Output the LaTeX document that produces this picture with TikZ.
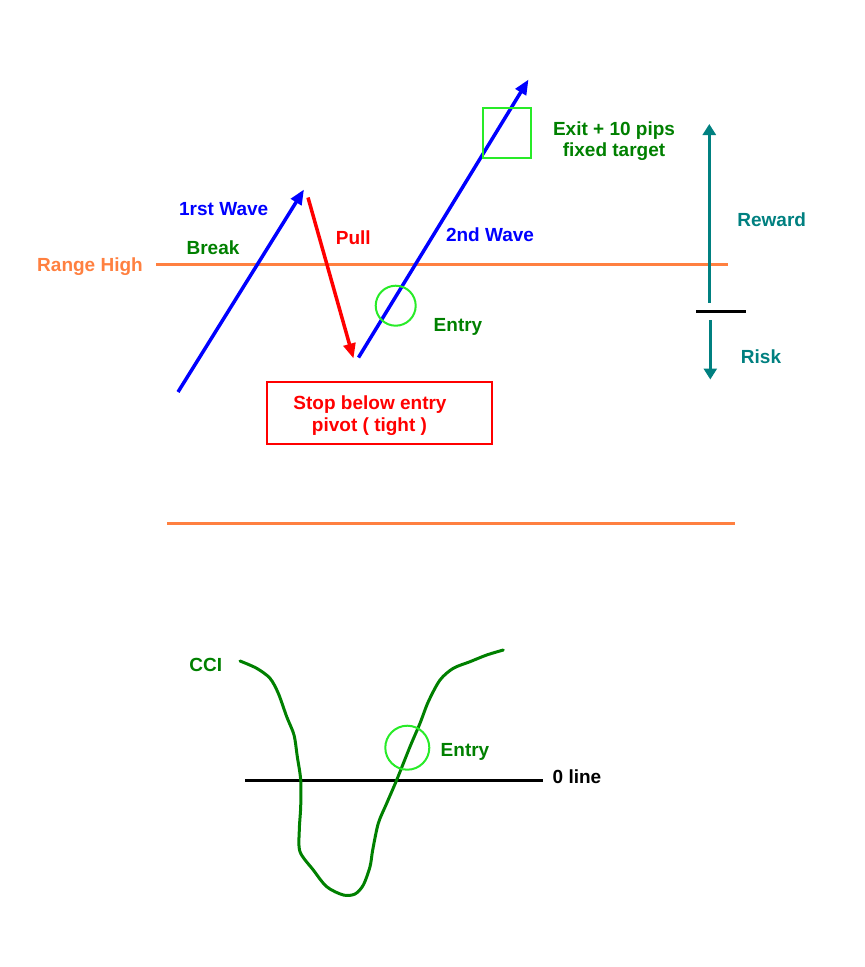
\documentclass[tikz,border=0pt]{standalone}
\usepackage{fontspec}
\setmainfont{Liberation Sans}
\usetikzlibrary{arrows.meta}
\definecolor{orng}{RGB}{255,128,64}
\definecolor{dgreen}{RGB}{0,128,0}
\definecolor{lgreen}{RGB}{40,235,40}
\definecolor{tealc}{RGB}{0,128,128}
\begin{document}
\begin{tikzpicture}[x=1pt,y=-1pt,
  lbl/.style={font=\fontsize{19}{22}\selectfont\bfseries, inner sep=0pt, anchor=base},
  wave/.style={line width=3.5pt, -{Triangle[length=15pt,width=12pt]}},
  tarrow/.style={draw=tealc, line width=3.5pt, -{Triangle[length=11pt,width=13pt]}},
  hilite/.style={draw=lgreen, line width=2pt},
  level/.style={draw=orng, line width=3pt},
  blackbar/.style={draw=black, line width=3pt}]
\useasboundingbox (0,0) rectangle (865,967);
% range high line
\draw[level] (156,264) coordinate (rhA) -- (728,264) coordinate (rhB);
\node[lbl, text=orng] (rangehigh) at (90,271.5) {Range High};
% waves
\coordinate (w1s) at (178,392);
\coordinate (w1e) at (304,189.5);
\coordinate (ps) at (308,197.5);
\coordinate (pe) at (353.5,358.5);
\coordinate (w2s) at (358.5,357.5);
\coordinate (w2e) at (528.5,79.5);
\draw[wave, draw=blue, fill=blue] (w1s) -- (w1e);
\draw[wave, draw=red, fill=red] (ps) -- (pe);
\draw[wave, draw=blue, fill=blue] (w2s) -- (w2e);
% marks
\node[hilite, circle, minimum size=40pt, inner sep=0pt] (entrycirc) at (395.7,305.7) {};
\node[hilite, rectangle, minimum width=48pt, minimum height=50pt, inner sep=0pt] (exitbox) at (507,133) {};
% labels
\node[lbl, text=blue] (wave1) at (223.7,215) {1rst Wave};
\node[lbl, text=dgreen] (break) at (213,254) {Break};
\node[lbl, text=red] (pull) at (353.3,244.7) {Pull};
\node[lbl, text=blue] (wave2) at (490,241) {2nd Wave};
\node[lbl, text=dgreen] (entry1) at (458,331) {Entry};
\node[lbl, text=dgreen] (exit1) at (614,135) {Exit + 10 pips};
\node[lbl, text=dgreen] (exit2) at (614,156.7) {fixed target};
% stop box
\node[draw=red, line width=2pt, minimum width=225pt, minimum height=62pt, inner sep=0pt] (stopbox) at (379.8,412.8) {};
\node[lbl, text=red] (stop1) at (370,409) {Stop below entry};
\node[lbl, text=red] (stop2) at (369.5,431.5) {pivot ( tight )};
% reward / risk
\coordinate (rwS) at (709.3,302.5);
\coordinate (rwE) at (709.3,124);
\coordinate (rkS) at (710.3,320);
\coordinate (rkE) at (710.3,379.5);
\draw[tarrow, fill=tealc] (rwS) -- (rwE);
\draw[tarrow, fill=tealc] (rkS) -- (rkE);
\draw[blackbar] (696,311.3) coordinate (barA) -- (745.7,311.3) coordinate (barB);
\node[lbl, text=tealc] (reward) at (771.7,226) {Reward};
\node[lbl, text=tealc] (risk) at (761,363) {Risk};
% separator
\draw[level] (167,523) coordinate (sepA) -- (735,523) coordinate (sepB);
% CCI panel
\draw[blackbar] (245,780) coordinate (zA) -- (542.5,780) coordinate (zB);
\node[lbl] (zeroline) at (577,783) {0 line};
\draw[draw=dgreen, line width=3pt, line join=round, line cap=round]
  plot[smooth, tension=0.5] coordinates {
  (240,661) (256.7,668.3) (270,678.3) (278.3,693.3) (286.7,716.7) (294,735)
  (297.3,756.7) (300.7,780) (300.7,806.7) (299.3,830) (300,851.7) (313.3,870)
  (326.7,886.7) (343.3,895) (355,894) (363.3,885) (370,866.7) (372.7,850)
  (378.3,823.3) (386.7,803.3) (396.7,780) (410,746.7) (420,723.3) (428.3,701.7)
  (440,680) (453.3,668.3) (470,661.7) (486.7,655) (503.3,650)};
\node[hilite, circle, minimum size=44pt, inner sep=0pt] (entrycirc2) at (407.3,747.7) {};
\node[lbl, text=dgreen] (cci) at (205.8,671) {CCI};
\node[lbl, text=dgreen] (entry2) at (465,756) {Entry};
\end{tikzpicture}
\end{document}
